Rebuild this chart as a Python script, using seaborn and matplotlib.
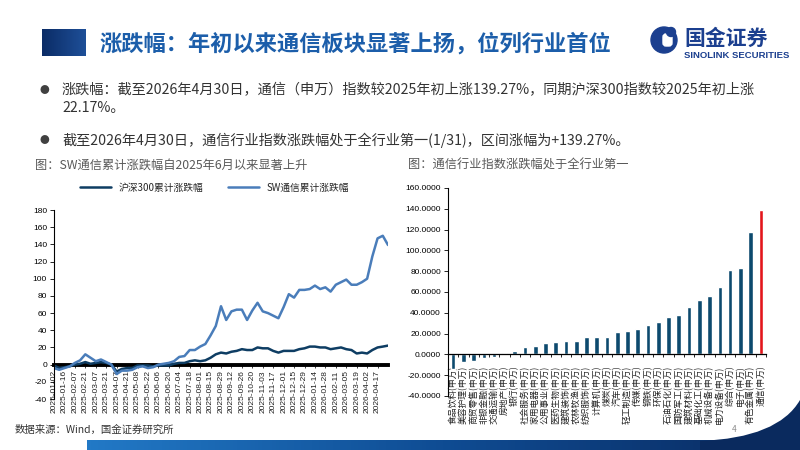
import numpy as np
import pandas as pd
import seaborn as sns
import matplotlib.pyplot as plt
from matplotlib.patches import Circle, FancyBboxPatch, PathPatch
from matplotlib.path import Path
from matplotlib.colors import LinearSegmentedColormap

# --- 数据：左图（累计涨跌幅，约每5个交易日取一点） ---
dates = ['2025-01-02', '2025-01-09', '2025-01-16', '2025-01-23', '2025-02-07', '2025-02-14',
         '2025-02-21', '2025-02-28', '2025-03-07', '2025-03-14', '2025-03-21', '2025-03-28',
         '2025-04-07', '2025-04-14', '2025-04-21', '2025-04-28', '2025-05-08', '2025-05-15',
         '2025-05-22', '2025-05-29', '2025-06-06', '2025-06-13', '2025-06-20', '2025-06-27',
         '2025-07-04', '2025-07-11', '2025-07-18', '2025-07-25', '2025-08-01', '2025-08-08',
         '2025-08-15', '2025-08-22', '2025-08-29', '2025-09-05', '2025-09-12', '2025-09-19',
         '2025-09-26', '2025-10-13', '2025-10-20', '2025-10-27', '2025-11-03', '2025-11-10',
         '2025-11-17', '2025-11-24', '2025-12-01', '2025-12-08', '2025-12-15', '2025-12-22',
         '2025-12-29', '2026-01-07', '2026-01-14', '2026-01-21', '2026-01-28', '2026-02-04',
         '2026-02-11', '2026-02-25', '2026-03-05', '2026-03-12', '2026-03-19', '2026-03-26',
         '2026-04-02', '2026-04-10', '2026-04-17', '2026-04-24', '2026-04-30']
sw_comm = [-4, -6, -4, -2, 2, 5, 12, 8, 4, 6, 3, 0,
           -11, -7, -7, -6, -3, -2, -4, -3, 0, 1, 2, 4,
           9, 10, 17, 17, 21, 24, 34, 45, 68, 52, 62, 64,
           64, 52, 63, 72, 62, 60, 57, 54, 67, 82, 78, 87,
           87, 88, 92, 88, 90, 85, 93, 96, 99, 93, 93, 96,
           100, 126, 147, 150, 139.27]
hs300 = [-1, -4, -3, -2, 0, 1, 3, 1, 2, 3, 2, 0,
         -8, -5, -4, -4, -1, -1, -1, -2, -1, -1, -1, 1,
         2, 2, 4, 5, 4, 5, 8, 12, 14, 13, 15, 16,
         18, 17, 17, 20, 19, 19, 16, 14, 16, 16, 16, 18,
         19, 21, 21, 20, 20, 18, 19, 20, 18, 17, 13, 14,
         13, 17, 20, 21, 22.17]
tick_dates = ['2025-01-02', '2025-01-16', '2025-02-07', '2025-02-21', '2025-03-07', '2025-03-21',
              '2025-04-07', '2025-04-21', '2025-05-08', '2025-05-22', '2025-06-06', '2025-06-20',
              '2025-07-04', '2025-07-18', '2025-08-01', '2025-08-15', '2025-08-29', '2025-09-12',
              '2025-09-26', '2025-10-20', '2025-11-03', '2025-11-17', '2025-12-01', '2025-12-15',
              '2025-12-29', '2026-01-14', '2026-01-28', '2026-02-11', '2026-03-05', '2026-03-19',
              '2026-04-02', '2026-04-17']

# --- 数据：右图（申万一级行业区间涨跌幅 %） ---
industries = ['食品饮料(申万)', '美容护理(申万)', '商贸零售(申万)', '非银金融(申万)', '交通运输(申万)',
              '房地产(申万)', '银行(申万)', '社会服务(申万)', '家用电器(申万)', '公用事业(申万)',
              '医药生物(申万)', '建筑装饰(申万)', '农林牧渔(申万)', '纺织服饰(申万)', '计算机(申万)',
              '煤炭(申万)', '汽车(申万)', '轻工制造(申万)', '传媒(申万)', '钢铁(申万)',
              '环保(申万)', '石油石化(申万)', '国防军工(申万)', '建筑材料(申万)', '基础化工(申万)',
              '机械设备(申万)', '电力设备(申万)', '综合(申万)', '电子(申万)', '有色金属(申万)',
              '通信(申万)']
returns = [-14, -7, -6, -3, -2.5, 1, 3, 7, 8, 11, 12, 13, 13, 17, 17,
           17, 21.5, 22.5, 24.5, 28.5, 31.5, 35.5, 38, 46, 52.5, 56.5, 65, 81.5, 83, 118,
           139.27]

sns.set_theme(style='white')
plt.rcParams['font.family'] = ['Noto Sans CJK SC', 'DejaVu Sans']
plt.rcParams['axes.unicode_minus'] = False

fig = plt.figure(figsize=(8, 4.5), dpi=100)

# 背景装饰层（像素坐标）
bg = fig.add_axes([0, 0, 1, 1])
bg.axis('off')

navy_grad = LinearSegmentedColormap.from_list('ng', ['#0B2C66', '#1E4F98'])
bg.imshow(np.linspace(0, 1, 50).reshape(1, -1), cmap=navy_grad, aspect='auto',
          extent=(42, 86, 56, 29))
band_grad = LinearSegmentedColormap.from_list('bg', ['#2279C6', '#0F4C93', '#0A2A60'])
bg.imshow(np.linspace(0, 1, 200).reshape(1, -1), cmap=band_grad, aspect='auto',
          extent=(87, 800, 450, 440))
swoosh = Path([(700, 450), (700, 441), (778, 438), (800, 400), (800, 450), (700, 450)],
              [Path.MOVETO, Path.LINETO, Path.CURVE3, Path.CURVE3, Path.LINETO, Path.CLOSEPOLY])
bg.add_patch(PathPatch(swoosh, facecolor='#0A2A5E', edgecolor='none'))

# logo
bg.add_patch(Circle((664, 40), 13, color='#1B3F8F'))
bg.add_patch(FancyBboxPatch((663, 34), 9, 12, boxstyle='round,pad=0,rounding_size=3',
                            color='white'))
bg.add_patch(Circle((671, 32), 4.5, color='#1B3F8F'))
bg.text(684, 38, '国金证券', fontsize=15, fontweight='bold', color='#1B3F8F', va='center')
bg.text(684, 55, 'SINOLINK SECURITIES', fontsize=6.8, fontweight='bold', color='#1B3F8F',
        va='center', family='Liberation Sans')

bg.set_xlim(0, 800)
bg.set_ylim(450, 0)

bg.text(100, 44, '涨跌幅：年初以来通信板块显著上扬，位列行业首位', fontsize=16,
        fontweight='bold', color='#1C5EAA', va='center')

txt_color = '#333333'
bg.text(40, 90, '●', fontsize=7, color='#404040', va='center')
bg.text(62, 90, '涨跌幅：截至2026年4月30日，通信（申万）指数较2025年初上涨139.27%，同期沪深300指数较2025年初上涨',
        fontsize=10.2, color=txt_color, va='center')
bg.text(62, 108, '22.17%。', fontsize=10.2, color=txt_color, va='center')
bg.text(40, 140, '●', fontsize=7, color='#404040', va='center')
bg.text(62, 140, '截至2026年4月30日，通信行业指数涨跌幅处于全行业第一(1/31)，区间涨幅为+139.27%。',
        fontsize=10.2, color=txt_color, va='center')

bg.text(35, 165, '图：SW通信累计涨跌幅自2025年6月以来显著上升', fontsize=8.8, color='#595959',
        va='center')
bg.text(408, 165, '图：通信行业指数涨跌幅处于全行业第一', fontsize=8.8, color='#595959',
        va='center')
bg.text(15, 430, '数据来源：Wind，国金证券研究所', fontsize=7.5, color='#333333', va='center')
bg.text(732, 430, '4', fontsize=6, color='#8C8C8C', va='center')

# --- 左图：累计涨跌幅折线 ---
ax1 = fig.add_axes([54 / 800, 1 - 399 / 450, 334 / 800, 189 / 450])
df = pd.DataFrame({'date': dates, 'pos': range(len(dates)), 'hs300': hs300, 'sw': sw_comm})
sns.lineplot(data=df, x='pos', y='hs300', ax=ax1, color='#0E3D63', linewidth=1.8,
             label='沪深300累计涨跌幅')
sns.lineplot(data=df, x='pos', y='sw', ax=ax1, color='#4A7DBA', linewidth=1.8,
             label='SW通信累计涨跌幅')
ax1.spines['bottom'].set_position(('data', 0))
ax1.set_xlim(0, len(dates) - 1)
ax1.set_ylim(-40, 180)
ax1.set_yticks(range(-40, 181, 20))
ax1.set_xticks([dates.index(d) for d in tick_dates])
ax1.set_xticklabels(tick_dates)
ax1.set_xlabel('')
ax1.set_ylabel('')
ax1.spines['bottom'].set_color('black')
ax1.spines['bottom'].set_linewidth(2.8)
ax1.spines['bottom'].set_zorder(1)
for s in ['top', 'right']:
    ax1.spines[s].set_visible(False)
ax1.spines['left'].set_color('black')
ax1.spines['left'].set_linewidth(0.8)
ax1.tick_params(axis='y', left=True, length=3, width=0.6, labelsize=6, pad=2,
                labelfontfamily='Liberation Sans', colors='black')
ax1.tick_params(axis='x', bottom=True, length=2, width=0.6, labelsize=6, pad=2,
                labelrotation=90, labelfontfamily='Liberation Sans', colors='#222222')
ax1.legend(loc='lower center', bbox_to_anchor=(0.48, 1.07), ncol=2, frameon=False,
           fontsize=7, handlelength=3.2, columnspacing=2.5, borderaxespad=0)

# --- 右图：行业涨跌幅柱状 ---
ax2 = fig.add_axes([448 / 800, 1 - 396 / 450, 318 / 800, 208 / 450])
bar_colors = ['#0D4A6E'] * (len(industries) - 1) + ['#E3161B']
sns.barplot(x=industries, y=returns, hue=industries, palette=bar_colors, legend=False,
            width=0.45, ax=ax2, saturation=1)
ax2.spines['bottom'].set_position(('data', 0))
ax2.set_xlim(-0.5, len(industries) - 0.5)
ax2.set_ylim(-40, 160)
ax2.set_yticks(range(-40, 161, 20))
ax2.set_yticklabels([f'{v:.4f}' for v in range(-40, 161, 20)])
for s in ['top', 'right']:
    ax2.spines[s].set_visible(False)
ax2.spines['bottom'].set_color('black')
ax2.spines['left'].set_color('black')
ax2.spines['bottom'].set_linewidth(0.9)
ax2.spines['left'].set_linewidth(0.8)
ax2.set_xticks(np.arange(len(industries)) + 0.5, minor=True)
ax2.tick_params(axis='x', which='major', bottom=False, labelsize=6.3, pad=2,
                labelrotation=90, colors='#222222')
ax2.tick_params(axis='x', which='minor', bottom=True, length=2.5, width=0.6, color='black')
ax2.tick_params(axis='y', left=True, length=3, width=0.6, labelsize=6, pad=2,
                labelfontfamily='Liberation Sans', colors='black')

fig.savefig('out.png', dpi=100)
